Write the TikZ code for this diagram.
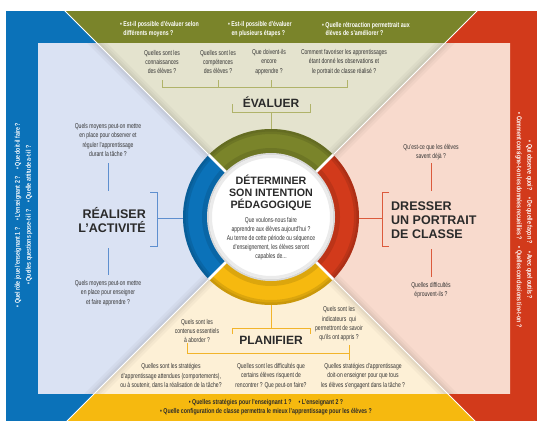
\documentclass[tikz,border=0pt]{standalone}
\usepackage{fontspec}
\setmainfont{Liberation Sans}
\newfontfamily\cond[FakeStretch=0.72]{Liberation Sans}
\newfontfamily\condb[FakeStretch=0.75]{Liberation Sans}
\usetikzlibrary{calc}
\definecolor{olv}{HTML}{7A842A}
\definecolor{rd}{HTML}{D23A1B}
\definecolor{yl}{HTML}{F6B90F}
\definecolor{bl}{HTML}{0B72B9}
\definecolor{olvl}{HTML}{E4E3CE}
\definecolor{rdl}{HTML}{F8DACD}
\definecolor{yll}{HTML}{FDF0D6}
\definecolor{bll}{HTML}{DAE2F3}
\definecolor{txt}{HTML}{333333}
\definecolor{head}{HTML}{2A2A2A}
\definecolor{olvline}{HTML}{B0B36A}
\definecolor{blline}{HTML}{5E8FCF}
\definecolor{rdline}{HTML}{DC5A3C}
\definecolor{ylline}{HTML}{F2B42A}
\tikzset{
 q/.style={font=\cond\fontsize{7}{9.3}\selectfont, text=txt, align=center, inner sep=0pt},
 bandw/.style={font=\condb\bfseries\fontsize{7}{8.5}\selectfont, text=white, align=left, inner sep=0pt},
 bandd/.style={font=\condb\bfseries\fontsize{7}{9}\selectfont, text=head, align=center, inner sep=0pt},
 hd/.style={font=\bfseries\fontsize{12}{14}\selectfont, text=head, inner sep=0pt},
 ln/.style={line width=0.8pt},
}
\begin{document}
\begin{tikzpicture}[x=1pt,y=-1pt]
\useasboundingbox (0,0) rectangle (537,420);
\coordinate (C) at (271,217);
% outer bands
\begin{scope}
\clip (6,12) rectangle (537,420);
\fill[olv] (C) -- ++(-300,-300) -- ++(600,0) -- cycle;
\fill[rd] (C) -- ++(300,-300) -- ++(0,600) -- cycle;
\fill[yl] (C) -- ++(300,300) -- ++(-600,0) -- cycle;
\fill[bl] (C) -- ++(-300,300) -- ++(0,-600) -- cycle;
\end{scope}
% inner regions
\begin{scope}
\clip (38,44) rectangle (510,393);
\fill[olvl] (C) -- ++(-300,-300) -- ++(600,0) -- cycle;
\fill[rdl] (C) -- ++(300,-300) -- ++(0,600) -- cycle;
\fill[yll] (C) -- ++(300,300) -- ++(-600,0) -- cycle;
\fill[bll] (C) -- ++(-300,300) -- ++(0,-600) -- cycle;
\foreach \w/\o in {14/0.03,9/0.03,5/0.04} {
  \draw[black, opacity=\o, line width=\w pt] ($(C)+(-300,-300)$) -- ($(C)+(300,300)$);
  \draw[black, opacity=\o, line width=\w pt] ($(C)+(300,-300)$) -- ($(C)+(-300,300)$);
}
\end{scope}
\begin{scope}
\clip (6,12) rectangle (537,420);
\draw[white, line width=1pt] ($(C)+(-300,-300)$) -- ($(C)+(300,300)$);
\draw[white, line width=1pt] ($(C)+(300,-300)$) -- ($(C)+(-300,300)$);
\end{scope}
% ring
\begin{scope}
\clip (C) circle (88);
\fill[olv] (C) -- ++(-100,-100) -- ++(200,0) -- cycle;
\fill[rd] (C) -- ++(100,-100) -- ++(0,200) -- cycle;
\fill[yl] (C) -- ++(100,100) -- ++(-200,0) -- cycle;
\fill[bl] (C) -- ++(-100,100) -- ++(0,-200) -- cycle;
\draw[black, opacity=0.10, line width=6pt] (C) circle (86);
\draw[black, opacity=0.08, line width=3pt] (C) circle (87);
\draw[black, opacity=0.10, line width=6pt] (C) circle (66);
\draw[white, line width=2.5pt] ($(C)+(-100,-100)$) -- ($(C)+(100,100)$);
\draw[white, line width=2.5pt] ($(C)+(100,-100)$) -- ($(C)+(-100,100)$);
\end{scope}
\fill[white, draw=black!15, line width=2pt] (C) circle (63);
\draw[black!8, line width=3pt] (C) circle (60.5);
\coordinate (rt) at ($(C)+(0,-88)$);
\coordinate (rb) at ($(C)+(0,88)$);
\coordinate (rl) at ($(C)+(-88,1)$);
\coordinate (rr) at ($(C)+(88,1)$);
% top band
\node[bandw, anchor=west] (tb1) at (120,29) {• Est-il possible d’évaluer selon\\\phantom{• }différents moyens ?};
\node[bandw, anchor=west] (tb2) at (228,29) {• Est-il possible d’évaluer\\\phantom{• }en plusieurs étapes ?};
\node[bandw, anchor=west] (tb3) at (322,29) {• Quelle rétroaction permettrait aux\\\phantom{• }élèves de s’améliorer ?};
% top region
\node[q] (t1) at (162,62) {Quelles sont les\\connaissances\\des élèves ?};
\node[q] (t2) at (218,62) {Quelles sont les\\compétences\\des élèves ?};
\node[q] (t3) at (269,62) {Que doivent-ils\\encore\\apprendre ?};
\node[q] (t4) at (344,62) {Comment favoriser les apprentissages\\étant donné les observations et\\le portrait de classe réalisé ?};
\draw[ln, olvline] (t1.south |- 0,80) -- (t1.south |- 0,87) -- (347,87) -- (347,80);
\draw[ln, olvline] (t2.south |- 0,80) -- (t2.south |- 0,87);
\draw[ln, olvline] (271,80) -- (271,87);
\node[hd] (ev) at (271,102) {ÉVALUER};
\draw[ln, olvline] (232,104) -- (232,112) -- (310,112) -- (310,104);
\draw[ln, olvline] (ev.south |- 0,112) -- (rt);
% left region
\node[q] (l1) at (108,140) {Quels moyens peut-on mettre\\en place pour observer et\\réguler l’apprentissage\\durant la tâche ?};
\draw[ln, blline] (l1.south |- 0,163) -- (l1.south |- 0,191);
\node[hd, align=right, anchor=east, font=\bfseries\fontsize{12.5}{14}\selectfont] (ra) at (146,220) {RÉALISER\\L’ACTIVITÉ};
\draw[ln, blline] (150,192) -- (157,192) -- (157,246) -- (150,246);
\draw[ln, blline] (157,218) -- (rl);
\node[q] (l2) at (108,293) {Quels moyens peut-on mettre\\en place pour enseigner\\et faire apprendre ?};
\draw[ln, blline] (l2.north |- 0,248) -- (l2.north |- 0,275);
% right region
\node[q] (r1) at (431,152) {Qu’est-ce que les élèves\\savent déjà ?};
\draw[ln, rdline] (r1.south |- 0,163) -- (r1.south |- 0,191);
\node[hd, align=left, anchor=west, font=\bfseries\fontsize{12.5}{14}\selectfont] (dp) at (391,220) {DRESSER\\UN PORTRAIT\\DE CLASSE};
\draw[ln, rdline] (389,192) -- (382,192) -- (382,246) -- (389,246);
\draw[ln, rdline] (rr) -- (382,218);
\node[q] (r2) at (431,290) {Quelles difficultés\\éprouvent-ils ?};
\draw[ln, rdline] (r2.north |- 0,249) -- (r2.north |- 0,277);
% bottom region
\draw[ln, ylline] (rb) -- (271,328);
\draw[ln, ylline] (232,334) -- (232,328) -- (310,328) -- (310,334);
\node[hd] (pl) at (271,340) {PLANIFIER};
\node[q] (b1) at (197,331) {Quels sont les\\contenus essentiels\\à aborder ?};
\node[q] (b2) at (339,324) {Quels sont les\\indicateurs\ \ qui\\permettront de savoir\\qu’ils ont appris ?};
\draw[ln, ylline] (187,343) -- (187,353) -- (349,353);
\draw[ln, ylline] (349,345) -- (349,360);
\node[q] (b3) at (171,376) {Quelles sont les stratégies\\d’apprentissage attendues (comportements),\\ou à soutenir, dans la réalisation de la tâche?};
\node[q] (b4) at (271,376) {Quelles sont les difficultés que\\certains élèves risquent de\\rencontrer ? Que peut-on faire?};
\node[q] (b5) at (363,376) {Quelles stratégies d’apprentissage\\doit-on enseigner pour que tous\\les élèves s’engagent dans la tâche ?};
% bottom band
\node[bandd] (bb) at (266,407.5) {• Quelles stratégies pour l’enseignant 1 ?\quad • L’enseignant 2 ?\\• Quelle configuration de classe permettra le mieux l’apprentissage pour les élèves ?};
% side bands
\node[bandw, rotate=90, align=center, font=\condb\bfseries\fontsize{7}{11}\selectfont] (lb) at (23.5,215) {• Quel rôle joue l’enseignant 1 ?\quad • L’enseignant 2 ?\quad • Que doit-il faire ?\\• Quelles questions pose-t-il ?\quad • Quelle attitude a-t-il ?};
\node[bandw, rotate=-90, align=center, font=\condb\bfseries\fontsize{7}{10.5}\selectfont] (rbd) at (524,220) {• Qui observe quoi?\quad • De quelle façon ?\quad • Avec quel outils ?\\• Comment consigne-t-on les données recueillies ?\quad • Quelles conclusions tire-t-on ?};
% center
\node[font=\bfseries\fontsize{10.7}{12}\selectfont, text=head, align=center, inner sep=0pt] (dt) at (271,193) {DÉTERMINER\\SON INTENTION\\PÉDAGOGIQUE};
\node[q, font=\cond\fontsize{7}{9}\selectfont] (c1) at (271,225.5) {Que voulons-nous faire\\apprendre aux élèves aujourd’hui ?};
\node[q, font=\cond\fontsize{7}{9}\selectfont] (c2) at (271,248) {Au terme de cette période ou séquence\\d’enseignement, les élèves seront\\capables de...};
\end{tikzpicture}
\end{document}
